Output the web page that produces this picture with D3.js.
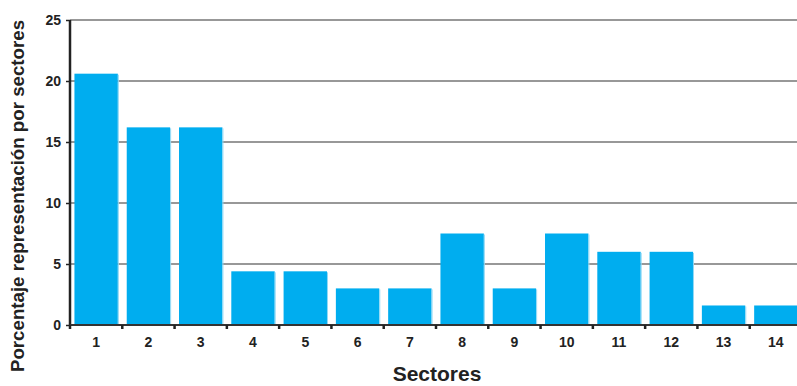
<!DOCTYPE html>
<html><head><meta charset="utf-8">
<script src="https://cdn.jsdelivr.net/npm/d3@7"></script>
<style>body{margin:0;background:#fff}svg{display:block}text{font-family:"Liberation Sans",Arial,sans-serif;font-weight:bold;fill:#222}</style>
</head><body>
<script>
const categories = ["1","2","3","4","5","6","7","8","9","10","11","12","13","14"];
const values = [20.6,16.2,16.2,4.4,4.4,3.0,3.0,7.5,3.0,7.5,6.0,6.0,1.6,1.6];
const yTicks = [0,5,10,15,20,25];
const xTitle = "Sectores";
const yTitle = "Porcentaje representación por sectores";

(function(){
const W = 797, H = 386;
const mLeft = 70, mTop = 20, mBottom = 325, mRight = 802;
const svg = d3.select("body").append("svg").attr("width", W).attr("height", H);

const x = d3.scaleBand().domain(categories).range([mLeft, mRight]).paddingInner(0.17).paddingOuter(0.085);
const y = d3.scaleLinear().domain([0,25]).range([mBottom, mTop]);

// gridlines
svg.append("g").selectAll("line").data(yTicks.filter(d=>d>0)).join("line")
  .attr("x1", mLeft).attr("x2", W).attr("y1", d=>y(d)).attr("y2", d=>y(d))
  .attr("stroke", "#333").attr("stroke-width", 1.2);

// bars
svg.append("g").selectAll("rect").data(values).join("rect")
  .attr("x", (d,i)=>x(categories[i])).attr("width", x.bandwidth())
  .attr("y", d=>y(d)).attr("height", d=>mBottom - y(d))
  .attr("fill", "#00adef");
svg.append("g").selectAll("line").data(values).join("line")
  .attr("x1", (d,i)=>x(categories[i])+x.bandwidth()+0.5).attr("x2", (d,i)=>x(categories[i])+x.bandwidth()+0.5)
  .attr("y1", d=>y(d)+1).attr("y2", mBottom)
  .attr("stroke", "#8fd8f5").attr("stroke-width", 1);

// y axis
const yAxis = d3.axisLeft(y).tickValues(yTicks).tickSize(4).tickPadding(5);
const gy = svg.append("g").attr("transform", `translate(${mLeft},0)`).call(yAxis);
gy.select(".domain").remove();
gy.selectAll(".tick line").attr("stroke", "#222").attr("stroke-width", 1.5);
gy.selectAll(".tick text").attr("font-size", 14).attr("font-family", "Liberation Sans, Arial, sans-serif").attr("font-weight", "bold").attr("fill", "#222");
svg.append("line").attr("x1", mLeft).attr("x2", mLeft).attr("y1", mTop).attr("y2", mBottom+1)
  .attr("stroke", "#222").attr("stroke-width", 2.5);

// x axis
const xAxis = d3.axisBottom(x).tickSize(0).tickPadding(12);
const gx = svg.append("g").attr("transform", `translate(0,${mBottom})`).call(xAxis);
gx.select(".domain").remove();
gx.selectAll(".tick text").attr("font-size", 14).attr("font-family", "Liberation Sans, Arial, sans-serif").attr("font-weight", "bold").attr("fill", "#222");
svg.append("line").attr("x1", mLeft).attr("x2", W).attr("y1", mBottom).attr("y2", mBottom)
  .attr("stroke", "#333").attr("stroke-width", 2);
const step = x.step();
const bounds = categories.map((c,i)=> i===0 ? mLeft : x(c) - (step - x.bandwidth())/2);
svg.append("g").selectAll("line").data(bounds).join("line")
  .attr("x1", d=>d).attr("x2", d=>d).attr("y1", mBottom).attr("y2", mBottom+4)
  .attr("stroke", "#222").attr("stroke-width", 2.5);

// titles
svg.append("text").attr("x", 437).attr("y", 381).attr("text-anchor", "middle")
  .attr("font-size", 21).text(xTitle);
svg.append("text").attr("transform", "translate(24,196) rotate(-90)").attr("text-anchor", "middle")
  .attr("font-size", 18.7).text(yTitle);
})();
</script>
</body></html>
